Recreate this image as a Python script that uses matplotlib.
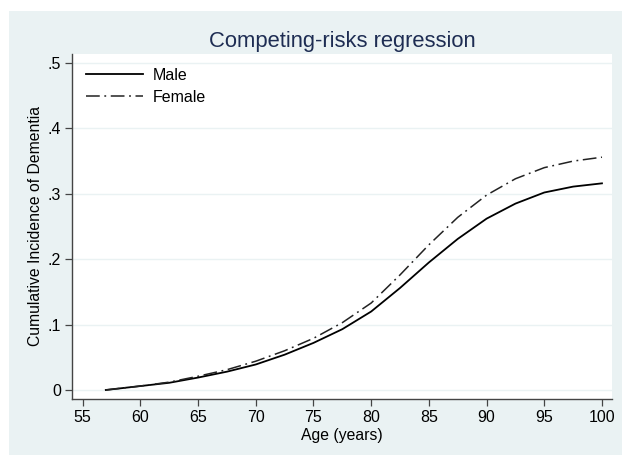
import matplotlib.pyplot as plt
from matplotlib.patches import Rectangle

plt.rcParams['font.family'] = ['Liberation Sans', 'DejaVu Sans']

# cumulative incidence
age = [57, 60, 62.5, 65, 67.5, 70, 72.5, 75, 77.5, 80, 82.5, 85, 87.5, 90, 92.5, 95, 97.5, 100]
male = [0.000, 0.006, 0.011, 0.019, 0.028, 0.039, 0.054, 0.072, 0.093, 0.120, 0.156, 0.195,
        0.231, 0.262, 0.285, 0.302, 0.311, 0.316]
female = [0.000, 0.006, 0.012, 0.021, 0.031, 0.044, 0.060, 0.079, 0.103, 0.133, 0.176, 0.222,
          0.264, 0.298, 0.323, 0.340, 0.350, 0.356]

xticks = [55, 60, 65, 70, 75, 80, 85, 90, 95, 100]
yticks = [0, 0.1, 0.2, 0.3, 0.4, 0.5]
ylabels = ['0', '.1', '.2', '.3', '.4', '.5']

bg = '#EAF2F3'
fig = plt.figure(figsize=(6.22, 4.55), dpi=100)
fig.patches.append(Rectangle((9 / 622, 0), 1, 1 - 11 / 455, transform=fig.transFigure,
                             facecolor=bg, edgecolor='none', zorder=-10))

ax = fig.add_axes([72 / 622, 1 - 399 / 455, 540 / 622, 345 / 455])
ax.set_zorder(1)
ax.set_facecolor('white')

ax.plot(age, male, color='black', lw=1.3, label='Male')
ax.plot(age, female, color='#222222', lw=1.1, linestyle=(0, (9, 3, 1.2, 3)), label='Female')

ax.set_xlim(54.07, 100.87)
ax.set_ylim(-0.0138, 0.5138)
ax.set_xticks(xticks)
ax.set_yticks(yticks)
ax.set_yticklabels(ylabels)
ax.grid(axis='y', color=bg, lw=1.0)
ax.set_axisbelow(True)

for s in ['top', 'right']:
    ax.spines[s].set_visible(False)
for s in ['left', 'bottom']:
    ax.spines[s].set_color('#444444')
    ax.spines[s].set_linewidth(1.0)
ax.tick_params(direction='out', length=5, width=0.9, color='#444444', labelsize=11.5,
               labelcolor='black', pad=3)

ax.set_title('Competing-risks regression', fontsize=15.8, color='#1E2D53', pad=5)
ax.set_xlabel('Age (years)', fontsize=11.3, labelpad=2)
ax.set_ylabel('Cumulative Incidence of Dementia', fontsize=11.3, labelpad=3)

ax.legend(loc='upper left', frameon=False, fontsize=11.5, handlelength=3.6,
          bbox_to_anchor=(0.0, 1.0), borderaxespad=0.45, labelspacing=0.45, handletextpad=0.6)

fig.savefig('out.png', dpi=100)
